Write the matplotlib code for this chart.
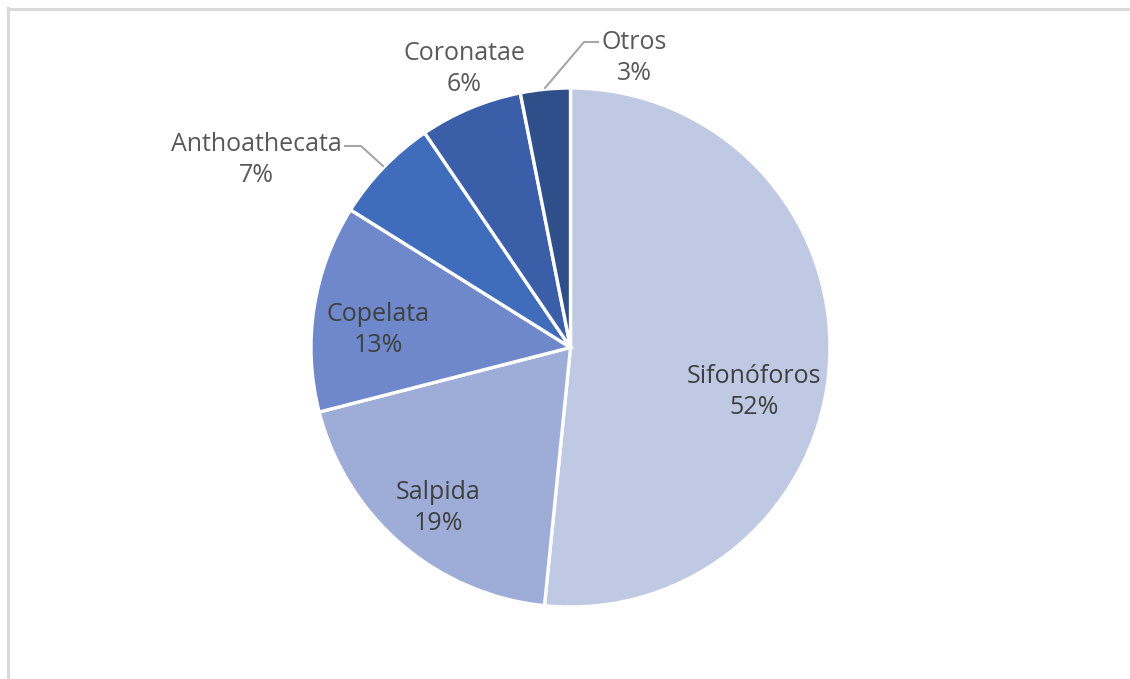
import matplotlib.pyplot as plt

# data (percent shares, labels show rounded values)
categories = ['Sifonóforos', 'Salpida', 'Copelata', 'Anthoathecata', 'Coronatae', 'Otros']
values = [51.6, 19.4, 12.9, 6.6, 6.4, 3.1]
colors = ['#bfc9e4', '#9eacd8', '#6e88cb', '#3f6dbb', '#3a5ea7', '#2f4f8b']

# label layout (pixel positions of each label block centre)
label_px = [(754, 392), (438, 508), (378, 330), (256, 160), (464, 69), (634, 58)]
inside = [True, True, True, False, False, False]
leaders = {3: [(345, 146), (361, 146), (383, 166)],
           5: [(598, 42), (584, 42), (545, 88)]}

W, H = 1130, 679
cx, cy, R = 570.5, 347.5, 259.5


def px(x, y):
    return (x - cx) / R, (cy - y) / R


plt.rcParams['font.family'] = ['Open Sans', 'DejaVu Sans']
fig = plt.figure(figsize=(W / 100, H / 100), dpi=100)
ax = fig.add_axes([0, 0, 1, 1])

ax.pie(values, colors=colors, startangle=90, counterclock=False, radius=1,
       wedgeprops=dict(edgecolor='white', linewidth=2.4))

# pie() resets the limits, so set them afterwards
ax.set_xlim(-cx / R, (W - cx) / R)
ax.set_ylim((cy - H) / R, cy / R)
ax.set_aspect('equal')
ax.axis('off')

for i, (name, v) in enumerate(zip(categories, values)):
    x, y = px(*label_px[i])
    c = '#404040' if inside[i] else '#595959'
    ax.text(x, y, f'{name}\n{v:.0f}%', ha='center', va='center', fontsize=18,
            color=c, linespacing=1.3)
    if leaders.get(i):
        pts = [px(a, b) for a, b in leaders[i]]
        ax.plot([p[0] for p in pts], [p[1] for p in pts], color='#a6a6a6', lw=1.5)

# chart area border (left and top visible)
fig.add_artist(plt.Line2D([8 / W, 8 / W], [0, 1 - 8 / H], transform=fig.transFigure,
                          color='#d9d9d9', lw=2.2))
fig.add_artist(plt.Line2D([8 / W, 1], [1 - 9 / H, 1 - 9 / H], transform=fig.transFigure,
                          color='#d9d9d9', lw=2.2))

fig.savefig('out.png', dpi=100, facecolor='white')
